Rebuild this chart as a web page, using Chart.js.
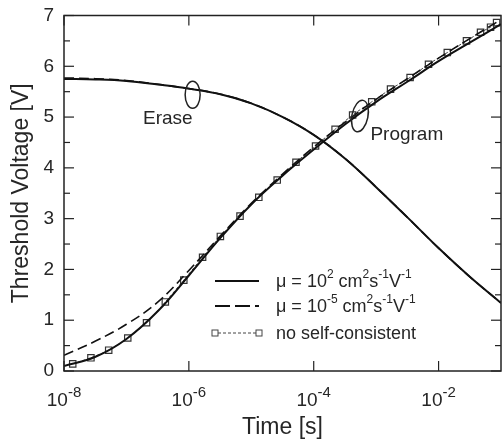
<!DOCTYPE html>
<html>
<head>
<meta charset="utf-8">
<script src="https://cdn.jsdelivr.net/npm/chart.js@4.4.0/dist/chart.umd.min.js"></script>
<style>
  html, body { margin: 0; padding: 0; background: #fff; }
</style>
</head>
<body>
<canvas id="chart" width="502" height="441"></canvas>
<script>
// time grid for the simulated curves [s]
const times = [1e-8, 3.2e-8, 1e-7, 3.2e-7, 1e-6, 3.2e-6, 1e-5, 3.2e-5, 1e-4, 3.2e-4, 1e-3, 3.2e-3, 1e-2, 3.2e-2, 1e-1];

// mu = 1e2 (solid) and mu = 1e-5 (dashed), threshold voltage [V]
const eraseHigh = [5.75, 5.74, 5.71, 5.64, 5.56, 5.45, 5.27, 5.00, 4.65, 4.18, 3.62, 3.02, 2.42, 1.85, 1.34];
const eraseLow = [5.77, 5.755, 5.72, 5.645, 5.56, 5.45, 5.27, 5.00, 4.65, 4.18, 3.62, 3.02, 2.42, 1.85, 1.34];
const programHigh = [0.10, 0.28, 0.63, 1.18, 1.88, 2.62, 3.28, 3.85, 4.36, 4.86, 5.30, 5.70, 6.10, 6.47, 6.83];
const programLow = [0.31, 0.59, 0.92, 1.36, 1.98, 2.66, 3.30, 3.88, 4.41, 4.90, 5.35, 5.76, 6.16, 6.55, 6.92];

// no self-consistent (squares)
const squareTimes = [1.38e-8, 2.7e-8, 5.2e-8, 1.05e-7, 2.1e-7, 4.2e-7, 8.3e-7, 1.66e-6, 3.2e-6, 6.6e-6,
  1.32e-5, 2.6e-5, 5.2e-5, 1.07e-4, 2.2e-4, 4.2e-4, 8.5e-4, 1.7e-3, 3.5e-3, 6.9e-3,
  1.38e-2, 2.8e-2, 4.7e-2, 6.8e-2, 8.5e-2];
const squareValues = [0.14, 0.26, 0.41, 0.65, 0.95, 1.36, 1.79, 2.24, 2.65, 3.05,
  3.42, 3.76, 4.11, 4.43, 4.76, 5.04, 5.30, 5.55, 5.78, 6.04,
  6.27, 6.50, 6.67, 6.77, 6.86];

const xTicks = [1e-8, 1e-6, 1e-4, 1e-2];
const xTickLabels = ["10^{-8}", "10^{-6}", "10^{-4}", "10^{-2}"];
const yMajorTicks = [0, 1, 2, 3, 4, 5, 6, 7];
const yMinorTicks = [0.5, 1.5, 2.5, 3.5, 4.5, 5.5, 6.5];

const legendLabels = ["\u03bc = 10^{2} cm^{2}s^{-1}V^{-1}", "\u03bc = 10^{-5} cm^{2}s^{-1}V^{-1}", "no self-consistent"];

// annotation marks (data coordinates)
const eraseMark = { t: 1.15e-6, v: 5.44, text: "Erase", textT: 4.6e-7, textV: 4.97 };
const programMark = { t: 5.5e-4, v: 5.02, text: "Program", textT: 3.1e-3, textV: 4.65 };

const FONT = "'Liberation Sans', Arial, sans-serif";
const TEXT = "#262626";

const pts = (xs, ys) => xs.map((x, i) => ({ x: x, y: ys[i] }));

// draws "10^{-8}" style text, returns width
function richText(ctx, str, x, y, size, supSize, rise, measureOnly) {
  const parts = str.split(/(\^\{[^}]*\})/).filter(s => s.length);
  let cx = x;
  parts.forEach(p => {
    const sup = p.startsWith("^{");
    const s = sup ? p.slice(2, -1) : p;
    ctx.font = (sup ? supSize : size) + "px " + FONT;
    if (!measureOnly) ctx.fillText(s, cx, sup ? y - rise : y);
    cx += ctx.measureText(s).width;
  });
  return cx - x;
}

const decorations = {
  id: "decorations",
  afterDraw(chart) {
    const { ctx, chartArea: a, scales: { x, y } } = chart;
    ctx.save();
    ctx.strokeStyle = "#222";
    ctx.lineWidth = 1.5;
    ctx.strokeRect(a.left, a.top, a.right - a.left, a.bottom - a.top);

    const seg = (x1, y1, x2, y2) => { ctx.beginPath(); ctx.moveTo(x1, y1); ctx.lineTo(x2, y2); ctx.stroke(); };
    ctx.lineWidth = 1.2;
    xTicks.forEach(v => {
      const px = x.getPixelForValue(v);
      seg(px, a.bottom, px, a.bottom - 10);
      seg(px, a.top, px, a.top + 10);
    });
    yMajorTicks.forEach(v => {
      const py = y.getPixelForValue(v);
      seg(a.left, py, a.left + 10, py);
      seg(a.right, py, a.right - 10, py);
    });
    yMinorTicks.forEach(v => {
      const py = y.getPixelForValue(v);
      seg(a.left, py, a.left + 6, py);
      seg(a.right, py, a.right - 6, py);
    });

    // x tick labels with superscript exponent
    ctx.fillStyle = TEXT;
    ctx.textBaseline = "alphabetic";
    ctx.textAlign = "left";
    xTicks.forEach((v, i) => {
      const w = richText(ctx, xTickLabels[i], 0, 0, 19, 15, 9, true);
      richText(ctx, xTickLabels[i], x.getPixelForValue(v) - w / 2, a.bottom + 35, 19, 15, 9, false);
    });

    // ellipses + labels
    ctx.lineWidth = 1.5;
    ctx.beginPath();
    ctx.ellipse(x.getPixelForValue(eraseMark.t), y.getPixelForValue(eraseMark.v), 7.5, 13.5, 0, 0, Math.PI * 2);
    ctx.stroke();
    ctx.beginPath();
    ctx.ellipse(x.getPixelForValue(programMark.t), y.getPixelForValue(programMark.v), 8, 16, 0.2, 0, Math.PI * 2);
    ctx.stroke();
    ctx.font = "19px " + FONT;
    ctx.textAlign = "center";
    ctx.textBaseline = "middle";
    [eraseMark, programMark].forEach(m => {
      ctx.fillText(m.text, x.getPixelForValue(m.textT), y.getPixelForValue(m.textV));
    });

    // legend
    const lx1 = 215, lx2 = 259, tx = 276;
    const rows = [281, 306, 333];
    ctx.textAlign = "left";
    ctx.textBaseline = "middle";
    ctx.strokeStyle = "#111";
    ctx.lineWidth = 2;
    seg(lx1, rows[0], lx2, rows[0]);
    ctx.setLineDash([15, 5]);
    seg(lx1, rows[1], lx2, rows[1]);
    ctx.setLineDash([3, 2]);
    ctx.lineWidth = 1;
    ctx.strokeStyle = "#444";
    seg(lx1 + 3, rows[2], lx2 - 3, rows[2]);
    ctx.setLineDash([]);
    [lx1, lx2].forEach(px => ctx.strokeRect(px - 3, rows[2] - 3, 6, 6));
    ctx.fillStyle = TEXT;
    legendLabels.forEach((lab, i) => richText(ctx, lab, tx, rows[i] + 1, 18, 12, 7, false));
    ctx.restore();
  }
};

new Chart(document.getElementById("chart"), {
  type: "line",
  data: {
    datasets: [
      { data: pts(times, eraseHigh), borderColor: "#111", borderWidth: 2, pointRadius: 0, tension: 0.4 },
      { data: pts(times, eraseLow), borderColor: "#111", borderWidth: 1.6, borderDash: [10, 5], pointRadius: 0, tension: 0.4 },
      { data: pts(times, programHigh), borderColor: "#111", borderWidth: 2, pointRadius: 0, tension: 0.4 },
      { data: pts(times, programLow), borderColor: "#111", borderWidth: 1.6, borderDash: [10, 5], pointRadius: 0, tension: 0.4 },
      {
        data: pts(squareTimes, squareValues), borderColor: "#444", borderWidth: 1, borderDash: [3, 2],
        pointStyle: "rect", pointRadius: 4.5, pointBorderColor: "#333", pointBorderWidth: 1.2,
        pointBackgroundColor: "rgba(255,255,255,0)", tension: 0.3
      }
    ]
  },
  options: {
    responsive: false,
    animation: false,
    devicePixelRatio: 1,
    layout: { autoPadding: false, padding: { top: 15.5, right: 1, bottom: 0, left: 0 } },
    scales: {
      x: {
        type: "logarithmic", min: 1e-8, max: 1e-1,
        grid: { display: false, drawTicks: false }, border: { display: false },
        ticks: { display: false },
        title: { display: true, text: "Time [s]", color: TEXT, font: { size: 23, family: FONT }, padding: { top: 0, bottom: 0 } },
        afterFit(s) { s.height = 70; s.paddingLeft = 0; s.paddingRight = 0; }
      },
      y: {
        min: 0, max: 7,
        grid: { display: false, drawTicks: false }, border: { display: false },
        ticks: { stepSize: 1, color: TEXT, font: { size: 19, family: FONT }, padding: 10 },
        title: { display: true, text: "Threshold Voltage [V]", color: TEXT, font: { size: 23, family: FONT }, padding: { top: 8, bottom: 0 } },
        afterFit(s) { s.width = 64; s.paddingTop = 0; s.paddingBottom = 0; }
      }
    },
    plugins: { legend: { display: false }, tooltip: { enabled: false } }
  },
  plugins: [decorations]
});
</script>
</body>
</html>
